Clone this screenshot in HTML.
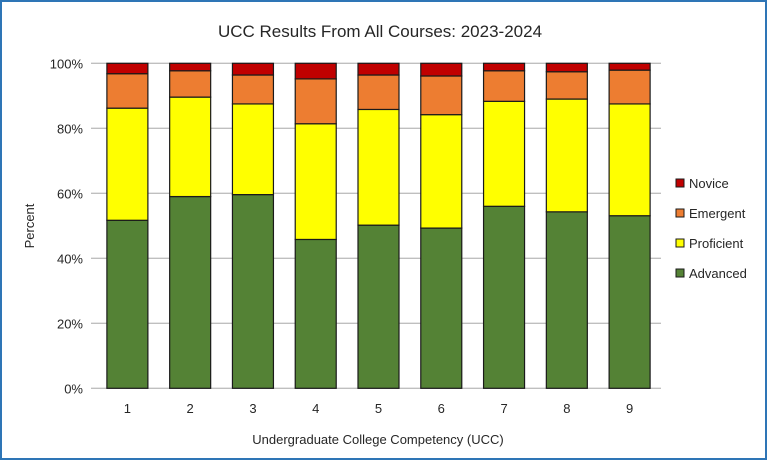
<!DOCTYPE html>
<html><head><meta charset="utf-8"><style>
body{margin:0;background:#fff;}
svg{display:block;font-family:"Liberation Sans",Arial,sans-serif;}
</style></head><body>
<svg id="chart" width="768" height="461" viewBox="0 0 768 461">
<rect x="1" y="1" width="765" height="458" fill="#fff" stroke="#2e75b6" stroke-width="2"/>
<text x="380" y="37" text-anchor="middle" font-size="17" fill="#262626">UCC Results From All Courses: 2023-2024</text>
<g id="grid"></g><g id="bars"></g><g id="labels"></g>
<text transform="translate(34,226) rotate(-90)" text-anchor="middle" font-size="13" fill="#262626">Percent</text>
<text x="378" y="444" text-anchor="middle" font-size="13" fill="#262626">Undergraduate College Competency (UCC)</text>
<g id="legend"></g>
</svg>
<script>
const categories=["1","2","3","4","5","6","7","8","9"];
const advanced=[51.7,59.0,59.6,45.8,50.2,49.3,56.0,54.3,53.1];
const proficient=[34.5,30.6,27.9,35.6,35.6,34.9,32.3,34.7,34.4];
const emergent=[10.6,8.1,8.9,13.8,10.6,11.9,9.4,8.4,10.4];
const novice=[3.2,2.3,3.6,4.8,3.6,3.9,2.3,2.6,2.1];
const yTicks=[0,20,40,60,80,100];
const seriesNames=["Advanced","Proficient","Emergent","Novice"];
const seriesColors=["#548235","#ffff00","#ed7d31","#c00000"];
const NS="http://www.w3.org/2000/svg";
const L=96,R=661,T=63.3,B=388.3;
const y=v=>B-(v/100)*(B-T);
const bw=(R-L)/categories.length;
const x=i=>L+bw*(i+0.5);
function mk(tag,attrs,parent){const e=document.createElementNS(NS,tag);for(const k in attrs)e.setAttribute(k,attrs[k]);parent.appendChild(e);return e;}
const grid=document.getElementById('grid'),bars=document.getElementById('bars'),labels=document.getElementById('labels'),legend=document.getElementById('legend');
yTicks.forEach(t=>{
 const l=mk('line',{x1:L-5,x2:R,y1:y(t),y2:y(t),stroke:'#bfbfbf','stroke-width':1.3},grid);
 
 
 const tx=mk('text',{x:83,y:y(t)+5,'text-anchor':'end','font-size':13,fill:'#262626'},labels);
 tx.textContent=t+'%';
 
 
});
const series=[advanced,proficient,emergent,novice];
categories.forEach((c,i)=>{
 let cum=0;
 series.forEach((s,k)=>{
  const v=s[i];
  const r=mk('rect',{x:x(i)-20.5,y:y(cum+v),width:41,height:y(cum)-y(cum+v),fill:seriesColors[k],stroke:'#1a1a1a','stroke-width':1.2},bars);
  
  
  cum+=v;
 });
 const tx=mk('text',{x:x(i),y:413,'text-anchor':'middle','font-size':13,fill:'#262626'},labels);
 tx.textContent=c;
 
 
});
for(let k=3;k>=0;k--){
 const row=3-k, yy=183+row*30;
 const g=mk('g',{},legend);
 
 
 mk('rect',{x:676,y:yy-4,width:8,height:8,fill:seriesColors[k],stroke:'#1a1a1a','stroke-width':1},g);
 const t=mk('text',{x:689,y:yy+5,'font-size':13,fill:'#262626'},g);
 t.textContent=seriesNames[k];
}
</script>
</body></html>
